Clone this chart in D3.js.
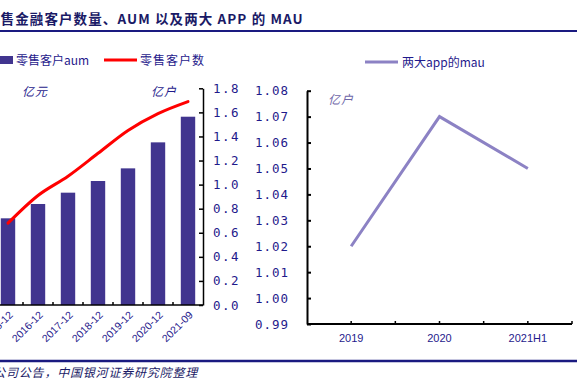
<!DOCTYPE html>
<html>
<head>
<meta charset="utf-8">
<script src="https://cdn.jsdelivr.net/npm/d3@7"></script>
<style>
  html, body { margin: 0; padding: 0; background: #fff; }
  svg { display: block; font-family: "Liberation Sans", "Noto Sans CJK SC", sans-serif; }
  .cn { font-family: "Noto Sans CJK SC", sans-serif; }
</style>
</head>
<body>
<svg id="chart" width="577" height="383"></svg>
<script>
// left chart data
const periods = ["2015-12", "2016-12", "2017-12", "2018-12", "2019-12", "2020-12", "2021-09"];
const aumValues = [7200, 8390, 9330, 10300, 11350, 13510, 15640];   // 亿元 (left axis, off-canvas)
const customerCounts = [0.68, 0.91, 1.07, 1.26, 1.45, 1.59, 1.69]; // 亿户
const rightTicks = [0, 0.2, 0.4, 0.6, 0.8, 1.0, 1.2, 1.4, 1.6, 1.8];

// right chart data
const mauYears = ["2019", "2020", "2021H1"];
const mauValues = [1.02, 1.07, 1.05];
const mauTicks = [0.99, 1.00, 1.01, 1.02, 1.03, 1.04, 1.05, 1.06, 1.07, 1.08];

const navy = "#1f1a8c";
const barColor = "#41358f";
const mauColor = "#8c82c4";

const svg = d3.select("#chart");

// title + frame lines
svg.append("text")
    .attr("class", "cn")
    .attr("x", -14).attr("y", 24)
    .attr("font-size", 13.5).attr("font-weight", "bold")
    .attr("letter-spacing", 1.1)
    .attr("fill", "#1a1a66")
    .text("零售金融客户数量、AUM 以及两大 APP 的 MAU");

svg.append("line").attr("x1", 0).attr("x2", 577).attr("y1", 31).attr("y2", 31)
    .attr("stroke", "#1a1a80").attr("stroke-width", 2);
svg.append("line").attr("x1", 0).attr("x2", 577).attr("y1", 361).attr("y2", 361)
    .attr("stroke", "#1a1a80").attr("stroke-width", 2.5);

svg.append("text")
    .attr("class", "cn")
    .attr("x", 198).attr("y", 377)
    .attr("text-anchor", "end")
    .attr("font-size", 12).attr("font-style", "italic")
    .attr("letter-spacing", 0.8)
    .attr("fill", "#1a1a66")
    .text("资料来源：公司公告，中国银河证券研究院整理");

// ---------- left chart ----------
const x = d3.scaleBand().domain(periods).range([-7, 203]).paddingInner(0.52).paddingOuter(0.26);
const yR = d3.scaleLinear().domain([0, 1.8]).range([305, 88.3]);
const yL = d3.scaleLinear().domain([0, 18000]).range([305, 88.3]);

const left = svg.append("g");

left.selectAll("rect.bar")
    .data(aumValues)
    .join("rect")
    .attr("class", "bar")
    .attr("x", (d, i) => x(periods[i]))
    .attr("width", x.bandwidth())
    .attr("y", d => yL(d))
    .attr("height", d => yL(0) - yL(d))
    .attr("fill", barColor);

const line = d3.line()
    .x((d, i) => x(periods[i]) + x.bandwidth() / 2)
    .y(d => yR(d))
    .curve(d3.curveMonotoneX);

left.append("path")
    .datum(customerCounts)
    .attr("d", line)
    .attr("fill", "none")
    .attr("stroke", "#ff0000")
    .attr("stroke-width", 3)
    .attr("stroke-linecap", "round");

// x axis line + boundary ticks
left.append("line")
    .attr("x1", x.range()[0]).attr("x2", x.range()[1])
    .attr("y1", yR(0)).attr("y2", yR(0))
    .attr("stroke", "#000").attr("stroke-width", 1.5);
left.selectAll("line.xt")
    .data(periods)
    .join("line")
    .attr("class", "xt")
    .attr("x1", d => x(d) - x.step() * x.paddingInner() / 2)
    .attr("x2", d => x(d) - x.step() * x.paddingInner() / 2)
    .attr("y1", yR(0)).attr("y2", yR(0) - 3)
    .attr("stroke", "#000").attr("stroke-width", 1.5);

left.selectAll("text.xl")
    .data(periods)
    .join("text")
    .attr("class", "xl")
    .attr("transform", d => `translate(${x(d) + x.bandwidth() / 2 + 3},${yR(0) + 8}) rotate(-45)`)
    .attr("text-anchor", "end")
    .attr("dy", "0.35em")
    .attr("font-size", 10.5)
    .attr("fill", navy)
    .text(d => d);

// right value axis
const axR = left.append("g")
    .attr("transform", "translate(203,0)")
    .call(d3.axisRight(yR).tickValues(rightTicks).tickSizeInner(-4).tickSizeOuter(0).tickPadding(10)
        .tickFormat(d3.format(".1f")));
axR.select(".domain").attr("stroke", "#000").attr("stroke-width", 1.5);
axR.selectAll(".tick line").attr("stroke", "#000").attr("stroke-width", 1.5);
axR.selectAll(".tick text").attr("fill", navy).attr("font-size", 12.5)
    .attr("letter-spacing", 1.5).attr("font-family", "DejaVu Sans Mono, monospace");

// legend
left.append("rect").attr("x", -6).attr("y", 56).attr("width", 19).attr("height", 8).attr("fill", barColor);
left.append("text").attr("class", "cn").attr("x", 16).attr("y", 64.5)
    .attr("font-size", 12).attr("fill", navy).text("零售客户aum");
left.append("line").attr("x1", 104).attr("x2", 137).attr("y1", 60).attr("y2", 60)
    .attr("stroke", "#ff0000").attr("stroke-width", 3);
left.append("text").attr("class", "cn").attr("x", 140).attr("y", 64.5)
    .attr("font-size", 12).attr("letter-spacing", 1).attr("fill", navy).text("零售客户数");

left.append("text").attr("class", "cn").attr("x", 22).attr("y", 96)
    .attr("font-size", 12).attr("font-style", "italic").attr("letter-spacing", 1)
    .attr("fill", navy).text("亿元");
left.append("text").attr("class", "cn").attr("x", 151).attr("y", 96)
    .attr("font-size", 12).attr("font-style", "italic").attr("letter-spacing", 1)
    .attr("fill", navy).text("亿户");

// ---------- right chart ----------
const x2 = d3.scaleBand().domain(mauYears).range([307, 572]);
const y2 = d3.scaleLinear().domain([0.99, 1.08]).range([324, 90.7]);

const right = svg.append("g");

right.append("path")
    .datum(mauValues)
    .attr("d", d3.line().x((d, i) => x2(mauYears[i]) + x2.bandwidth() / 2).y(d => y2(d)))
    .attr("fill", "none")
    .attr("stroke", mauColor)
    .attr("stroke-width", 3);

const axY2 = right.append("g")
    .attr("transform", "translate(307,0)")
    .call(d3.axisLeft(y2).tickValues(mauTicks).tickSizeInner(-4).tickSizeOuter(0).tickPadding(18)
        .tickFormat(d3.format(".2f")));
axY2.select(".domain").attr("stroke", "#000").attr("stroke-width", 2);
axY2.selectAll(".tick line").attr("stroke", "#000").attr("stroke-width", 2);
axY2.selectAll(".tick text").attr("fill", navy).attr("font-size", 12.5)
    .attr("letter-spacing", 1).attr("font-family", "DejaVu Sans Mono, monospace");

right.append("line")
    .attr("x1", x2.range()[0]).attr("x2", x2.range()[1])
    .attr("y1", y2(0.99)).attr("y2", y2(0.99))
    .attr("stroke", "#000").attr("stroke-width", 2);

// ticks at category centers and boundaries
const halfTicks = mauYears.flatMap(d => [x2(d) + x2.bandwidth() / 2, x2(d) + x2.bandwidth()]);
right.selectAll("line.xt2")
    .data(halfTicks)
    .join("line")
    .attr("class", "xt2")
    .attr("x1", d => d).attr("x2", d => d)
    .attr("y1", y2(0.99)).attr("y2", y2(0.99) - 3)
    .attr("stroke", "#000").attr("stroke-width", 1.5);

right.selectAll("text.xl2")
    .data(mauYears)
    .join("text")
    .attr("class", "xl2")
    .attr("x", d => x2(d) + x2.bandwidth() / 2)
    .attr("y", y2(0.99) + 18)
    .attr("text-anchor", "middle")
    .attr("font-size", 11)
    .attr("fill", navy)
    .text(d => d);

// legend + unit
right.append("line").attr("x1", 365).attr("x2", 398).attr("y1", 62).attr("y2", 62)
    .attr("stroke", mauColor).attr("stroke-width", 3);
right.append("text").attr("class", "cn").attr("x", 402).attr("y", 66.5)
    .attr("font-size", 12).attr("fill", navy).text("两大app的mau");
right.append("text").attr("class", "cn").attr("x", 328).attr("y", 104)
    .attr("font-size", 12).attr("font-style", "italic").attr("letter-spacing", 1)
    .attr("fill", "#6e66a8").text("亿户");
</script>
</body>
</html>
